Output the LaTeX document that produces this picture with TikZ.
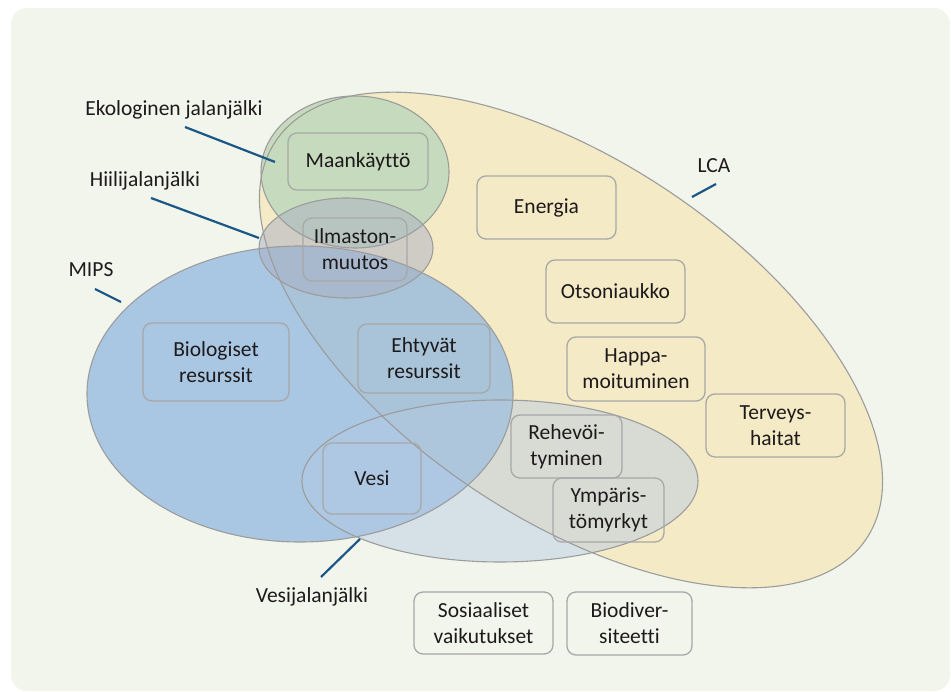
\documentclass[tikz,border=0pt]{standalone}
\usepackage{fontspec}
\setmainfont{Carlito}[Ligatures=NoCommon]
\usetikzlibrary{calc}
\usetikzlibrary{positioning}

\definecolor{bgcol}{HTML}{F2F5EC}
\definecolor{lcacol}{HTML}{F4EAC6}
\definecolor{ekocol}{HTML}{C6DABD}
\definecolor{mipscol}{HTML}{91B8DF}
\definecolor{hiilicol}{HTML}{A9AFC4}
\definecolor{vesicol}{HTML}{B6C9E3}
\definecolor{ringline}{HTML}{9C9C9C}
\definecolor{boxline}{HTML}{A8A8A8}
\definecolor{pointcol}{HTML}{1B5787}
\definecolor{txtcol}{HTML}{1E1A1C}

\begin{document}
\begin{tikzpicture}[x=1pt,y=-1pt,
    every node/.style = {align=center, text=txtcol, font=\fontsize{21.5}{26}\selectfont},
    box/.style = {draw=boxline, line width=1.3pt, rounded corners=9pt, inner sep=0pt},
    pointer/.style = {draw=pointcol, line width=2.2pt},
    ring/.style = {draw=ringline, line width=1.1pt}]
\useasboundingbox (0,0) rectangle (951,692);
\fill[bgcol, rounded corners=16pt] (11,8) rectangle (950,691);

% ellipse centres
\coordinate (lcaC) at (571,340);
\coordinate (ekoC) at (355,172);
\coordinate (mipsC) at (300,394);
\coordinate (hiiliC) at (346,248);
\coordinate (vesiC) at (500,481);

\fill[lcacol, rotate around={-34:(lcaC)}] (lcaC) ellipse [x radius=356pt, y radius=178pt];
\fill[ekocol] (ekoC) ellipse [x radius=94pt, y radius=76pt];
\fill[mipscol, fill opacity=0.75] (mipsC) ellipse [x radius=213pt, y radius=148pt];
\fill[hiilicol, fill opacity=0.5] (hiiliC) ellipse [x radius=87pt, y radius=50pt];
\fill[vesicol, fill opacity=0.45] (vesiC) ellipse [x radius=198pt, y radius=81pt];

\draw[ring, rotate around={-34:(lcaC)}] (lcaC) ellipse [x radius=356pt, y radius=178pt];
\draw[ring] (ekoC) ellipse [x radius=94pt, y radius=76pt];
\draw[ring] (mipsC) ellipse [x radius=213pt, y radius=148pt];
\draw[ring] (hiiliC) ellipse [x radius=87pt, y radius=50pt];
\draw[ring] (vesiC) ellipse [x radius=198pt, y radius=81pt];

% boxes
\node[box, minimum width=140pt, minimum height=57pt] (maan) at (358,161.5) {Maankäyttö};
\node[box, minimum width=104pt, minimum height=63pt] (ilmasto) at (355,249.5) {Ilmaston-\\muutos};
\node[box, minimum width=139pt, minimum height=63pt] (energia) at (546.5,207.5) {Energia};
\node[box, minimum width=139pt, minimum height=63pt] (otso) at (615.5,291.5) {Otsoniaukko};
\node[box, minimum width=138pt, minimum height=64pt] (happa) at (636,369) {Happa-\\moituminen};
\node[box, minimum width=139pt, minimum height=63pt] (terveys) at (775.5,425.5) {Terveys-\\haitat};
\node[box, minimum width=111pt, minimum height=63pt] (rehevoi) at (566.5,446.5) {Rehevöi-\\tyminen};
\node[box, minimum width=111pt, minimum height=64pt] (myrkyt) at (608.5,510) {Ympäris-\\tömyrkyt};
\node[box, minimum width=146pt, minimum height=78pt] (biores) at (216,362) {Biologiset\\resurssit};
\node[box, minimum width=132pt, minimum height=69pt] (ehtyres) at (424,358.5) {Ehtyvät\\resurssit};
\node[box, minimum width=98pt, minimum height=71pt] (vesi) at (372,478.5) {Vesi};
\node[box, minimum width=139pt, minimum height=62pt] (sosiaal) at (483.5,623) {Sosiaaliset\\vaikutukset};
\node[box, minimum width=125pt, minimum height=63pt] (biodiv) at (629.5,623.5) {Biodiver-\\siteetti};

% labels
\node (ekolab) at (174,110) {Ekologinen jalanjälki};
\node (hiililab) at (145,181) {Hiilijalanjälki};
\node (mipslab) at (91,270) {MIPS};
\node (lcalab) at (714,166) {LCA};
\node (vesilab) at (312,597) {Vesijalanjälki};

\coordinate (eko1) at (185,127);  \coordinate (eko2) at (275,162);
\coordinate (hiili1) at (151,198); \coordinate (hiili2) at (259,238);
\coordinate (mips1) at (95,289);  \coordinate (mips2) at (121,302);
\coordinate (lca1) at (716,184);  \coordinate (lca2) at (692,197);
\coordinate (vesi1) at (321,577); \coordinate (vesi2) at (360,539);

\draw[pointer] (eko1) -- (eko2);
\draw[pointer] (hiili1) -- (hiili2);
\draw[pointer] (mips1) -- (mips2);
\draw[pointer] (lca1) -- (lca2);
\draw[pointer] (vesi1) -- (vesi2);
\end{tikzpicture}
\end{document}
